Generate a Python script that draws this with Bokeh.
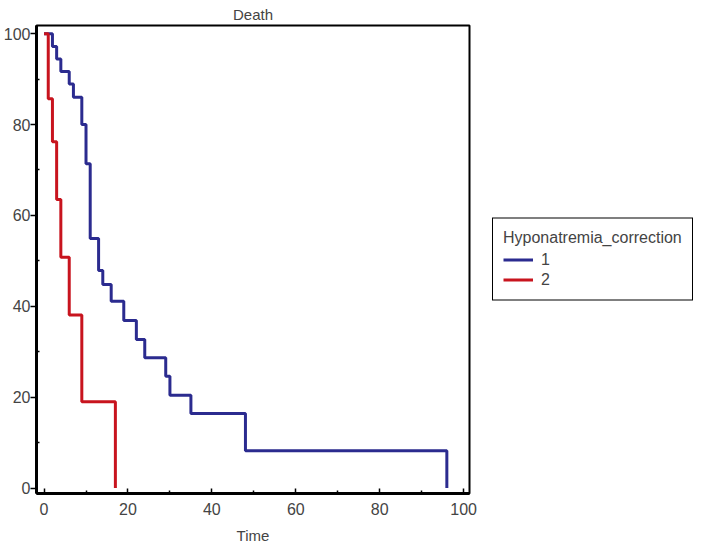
from bokeh.plotting import figure
from bokeh.models import Range1d, FixedTicker, Legend, LegendItem
from bokeh.embed import file_html
from bokeh.resources import INLINE

title_text = "Death"
x_label = "Time"
legend_title = "Hyponatremia_correction"
group_labels = ["1", "2"]

# Group 1 (blue) Kaplan-Meier steps
time_1 = [0, 2, 3, 4, 6, 7, 9, 10, 11, 13, 14, 16, 19, 22, 24, 29, 30, 35, 48, 96]
surv_1 = [100, 97.2, 94.4, 91.7, 88.9, 86.0, 80.0, 71.4, 54.9, 47.9, 44.8, 41.1,
          36.9, 32.7, 28.7, 24.6, 20.4, 16.4, 8.2, 0]

# Group 2 (red) Kaplan-Meier steps
time_2 = [0, 1, 2, 3, 4, 6, 9, 17]
surv_2 = [100, 85.7, 76.2, 63.5, 50.8, 38.1, 19.0, 0]

x_ticks = [0, 20, 40, 60, 80, 100]
x_minor = [10, 30, 50, 70, 90]
y_ticks = [0, 20, 40, 60, 80, 100]
y_minor = [10, 30, 50, 70, 90]

BLUE = "#2b2b8f"
RED = "#c8141e"
FONT = "Liberation Sans"

p = figure(frame_width=433, frame_height=468, output_backend="svg", toolbar_location=None,
           x_range=Range1d(-1.8, 101.4), y_range=Range1d(-1.2, 101.8),
           min_border_left=20, min_border_right=224, min_border_top=25,
           min_border_bottom=50)

p.title.text = title_text
p.title.align = "center"
p.title.text_font = FONT
p.title.text_font_size = "15px"
p.title.text_font_style = "normal"
p.title.standoff = 6
p.title.offset = 0

p.grid.visible = False
p.background_fill_color = "white"
p.border_fill_color = "white"
p.outline_line_color = "black"
p.outline_line_width = 2

r1 = p.step(time_1, surv_1, mode="after", line_color=BLUE, line_width=3)
r2 = p.step(time_2, surv_2, mode="after", line_color=RED, line_width=3)

xa = p.xaxis[0]
xa.ticker = FixedTicker(ticks=x_ticks, minor_ticks=x_minor)
xa.axis_label = x_label
xa.axis_label_text_font = FONT
xa.axis_label_text_font_size = "15px"
xa.axis_label_text_font_style = "normal"
xa.axis_label_standoff = 9
xa.major_label_text_font = FONT
xa.major_label_text_font_size = "16px"
xa.major_label_standoff = 9
xa.major_tick_in = 5
xa.major_tick_out = 0
xa.minor_tick_in = 3
xa.minor_tick_out = 0
xa.axis_line_width = 3
xa.major_tick_line_width = 1.5
xa.minor_tick_line_width = 1.5

ya = p.yaxis[0]
ya.ticker = FixedTicker(ticks=y_ticks, minor_ticks=y_minor)
ya.major_label_text_font = FONT
ya.major_label_text_font_size = "16px"
ya.major_label_standoff = 0
ya.major_tick_in = 0
ya.major_tick_out = 6
ya.minor_tick_in = 3
ya.minor_tick_out = 0
ya.axis_line_width = 3
ya.major_tick_line_width = 1.5
ya.minor_tick_line_width = 1.5

legend = Legend(items=[LegendItem(label=group_labels[0], renderers=[r1]),
                       LegendItem(label=group_labels[1], renderers=[r2])],
                location="left")
legend.title = legend_title
legend.title_text_font = FONT
legend.title_text_font_size = "16px"
legend.title_text_font_style = "normal"
legend.title_standoff = 3
legend.label_text_font = FONT
legend.label_text_font_size = "16px"
legend.glyph_width = 30
legend.glyph_height = 20
legend.label_height = 20
legend.label_standoff = 8
legend.spacing = 0
legend.padding = 10
legend.margin = 23
legend.border_line_color = "black"
legend.border_line_alpha = 1
legend.border_line_width = 1.5
legend.background_fill_color = "white"
legend.background_fill_alpha = 1
p.add_layout(legend, "right")

open("out.html", "w").write(file_html(p, INLINE))
